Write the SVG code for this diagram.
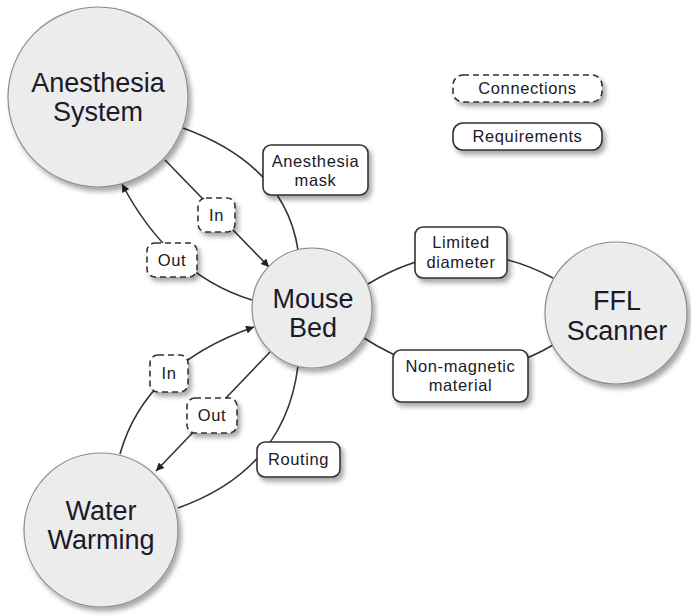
<svg xmlns="http://www.w3.org/2000/svg" width="691" height="616" viewBox="0 0 691 616">
  <style>
    .node circle { fill: #ececec; stroke: #8c8c8c; stroke-width: 1.2; filter: url(#shadow); }
    .node text { font-family: "Liberation Sans", Arial, sans-serif; font-size: 27px; fill: #1a1a2a; text-anchor: middle; }
    .label rect { fill: #ffffff; stroke: #333333; stroke-width: 1.6; filter: url(#shadow); }
    .label.dashed rect { stroke-dasharray: 6 4; }
    .label text { font-family: "Liberation Sans", Arial, sans-serif; font-size: 16.5px; letter-spacing: 0.6px; fill: #1a1a2a; text-anchor: middle; }
    .edge { fill: none; stroke: #333333; stroke-width: 1.6; }
    .edge.arrow { marker-end: url(#head); }
  </style>
  <defs>
    <filter id="shadow" x="-20%" y="-20%" width="150%" height="150%">
      <feDropShadow dx="3" dy="4" stdDeviation="2.5" flood-color="#000000" flood-opacity="0.35"/>
    </filter>
    <marker id="head" viewBox="0 0 10 10" refX="10" refY="5" markerWidth="9" markerHeight="8" markerUnits="userSpaceOnUse" orient="auto">
      <path d="M0,0 L10,5 L0,10 z" fill="#222222"/>
    </marker>
  </defs>

  <!-- connectors (drawn first so nodes and labels sit on top) -->
  <g id="connectors">
    <path class="edge" d="M183,128 Q285,165 298,250"/>
    <path class="edge arrow" d="M165,160 L269,267"/>
    <path class="edge arrow" d="M252,300 Q170,275 122,184"/>
    <path class="edge" d="M368,284 Q460,228 553,278"/>
    <path class="edge" d="M364,338 Q460,400 553,345"/>
    <path class="edge arrow" d="M120,454 Q145,365 254,327"/>
    <path class="edge arrow" d="M270,352 L156,471"/>
    <path class="edge" d="M298,366 Q285,470 178,508"/>
  </g>

  <!-- main components -->
  <g id="anesthesia-system" class="node">
    <circle cx="98" cy="97" r="90"/>
    <text x="98" y="92">Anesthesia</text>
    <text x="98" y="121">System</text>
  </g>
  <g id="mouse-bed" class="node">
    <circle cx="312" cy="308" r="60"/>
    <text x="313" y="308">Mouse</text>
    <text x="313" y="337">Bed</text>
  </g>
  <g id="ffl-scanner" class="node">
    <circle cx="616" cy="313" r="71"/>
    <text x="617" y="310">FFL</text>
    <text x="617" y="340">Scanner</text>
  </g>
  <g id="water-warming" class="node">
    <circle cx="101" cy="530" r="77"/>
    <text x="101" y="520">Water</text>
    <text x="101" y="549">Warming</text>
  </g>

  <!-- requirement labels -->
  <g id="req-anesthesia-mask" class="label">
    <rect x="263" y="145" width="105" height="50" rx="8"/>
    <text x="315.5" y="167">Anesthesia</text>
    <text x="315.5" y="186">mask</text>
  </g>
  <g id="req-limited-diameter" class="label">
    <rect x="415" y="227" width="92" height="51" rx="8"/>
    <text x="461" y="248">Limited</text>
    <text x="461" y="268">diameter</text>
  </g>
  <g id="req-non-magnetic" class="label">
    <rect x="393" y="350" width="135" height="52" rx="8"/>
    <text x="460.5" y="372">Non-magnetic</text>
    <text x="460.5" y="391">material</text>
  </g>
  <g id="req-routing" class="label">
    <rect x="257" y="442" width="83" height="35" rx="8"/>
    <text x="298.5" y="465">Routing</text>
  </g>

  <!-- connection labels -->
  <g id="conn-anesthesia-in" class="label dashed">
    <rect x="198" y="198" width="37" height="34" rx="8"/>
    <text x="216.5" y="221">In</text>
  </g>
  <g id="conn-anesthesia-out" class="label dashed">
    <rect x="147" y="243" width="50" height="34" rx="8"/>
    <text x="172" y="266">Out</text>
  </g>
  <g id="conn-water-in" class="label dashed">
    <rect x="150" y="355" width="38" height="37" rx="8"/>
    <text x="169" y="379">In</text>
  </g>
  <g id="conn-water-out" class="label dashed">
    <rect x="187" y="398" width="50" height="35" rx="8"/>
    <text x="212" y="421">Out</text>
  </g>

  <!-- legend -->
  <g id="legend-connections" class="label dashed">
    <rect x="453" y="75" width="149" height="27" rx="10"/>
    <text x="527.5" y="94">Connections</text>
  </g>
  <g id="legend-requirements" class="label">
    <rect x="453" y="123" width="149" height="27" rx="10"/>
    <text x="527.5" y="142">Requirements</text>
  </g>
</svg>
